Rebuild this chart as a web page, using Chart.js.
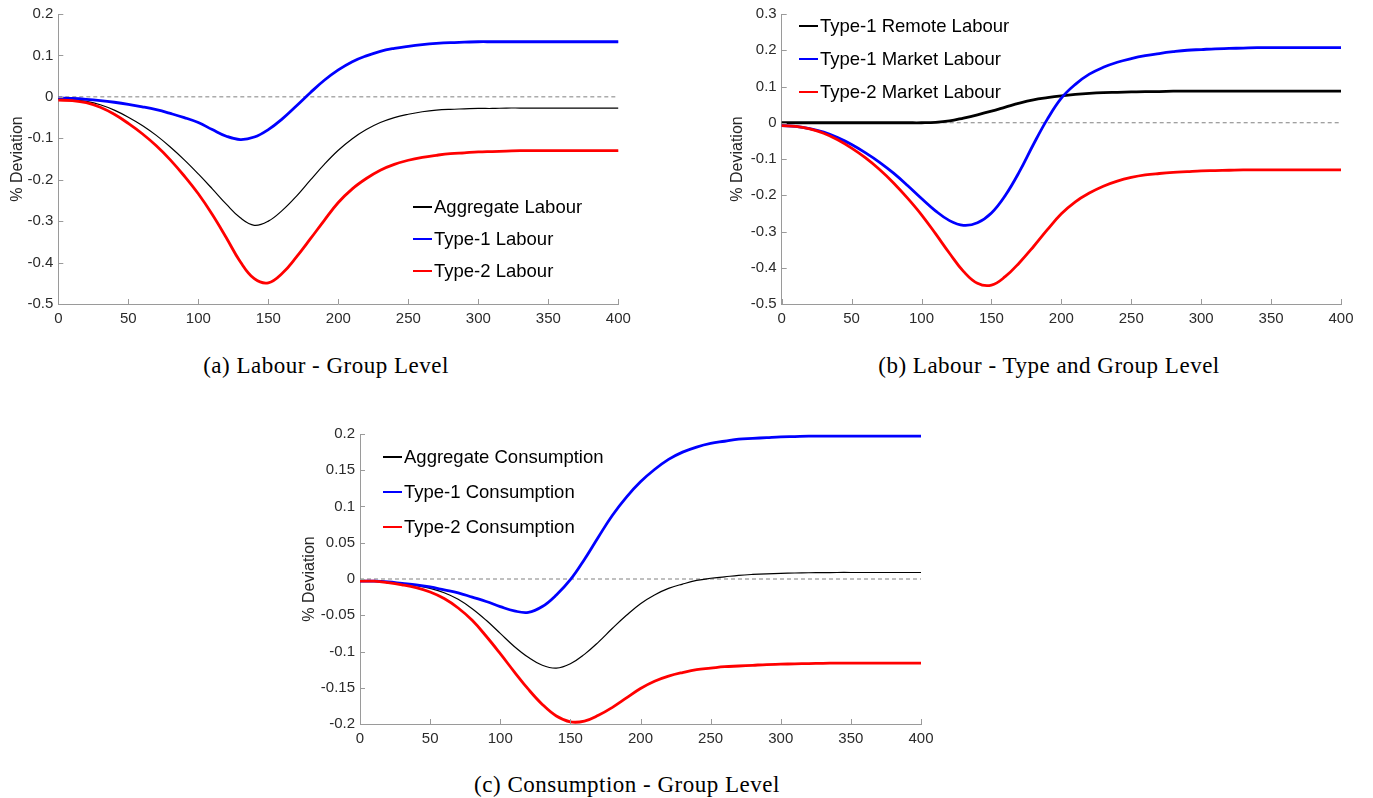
<!DOCTYPE html>
<html>
<head>
<meta charset="utf-8">
<script src="https://cdn.jsdelivr.net/npm/chart.js@4.4.1/dist/chart.umd.min.js"></script>
<style>
  html, body { margin: 0; padding: 0; background: #fff; }
  body { width: 1373px; height: 798px; position: relative; overflow: hidden; }
  canvas { position: absolute; }
  .legend { position: absolute; font-family: 'Liberation Sans', Arial, sans-serif; font-size: 18.5px; color: #000; }
  .lrow { position: absolute; height: 24px; line-height: 24px; display: flex; align-items: center; white-space: nowrap; }
  .lsample { display: inline-block; width: 19px; margin-right: 2px; }
  .caption { position: absolute; width: 600px; text-align: center; font-family: 'Liberation Serif', 'DejaVu Serif', serif; font-size: 23px; letter-spacing: 0.5px; line-height: 28px; color: #000; }
</style>
</head>
<body>
<canvas id="ca" width="660" height="335" style="left:0px;top:0px"></canvas>
<canvas id="cb" width="673" height="335" style="left:700px;top:0px"></canvas>
<canvas id="cc" width="650" height="335" style="left:290px;top:420px"></canvas>

<div class="caption" style="left:26px;top:352px">(a) Labour - Group Level</div>
<div class="caption" style="left:749px;top:352px">(b) Labour - Type and Group Level</div>
<div class="caption" style="left:327px;top:771px">(c) Consumption - Group Level</div>

<script>
// ---------------- DATA ----------------
const steps = [0,10,20,30,40,50,60,70,80,90,100,110,120,130,140,150,160,170,180,190,200,
               210,220,230,240,250,260,270,280,290,300,310,320,330,340,350,360,370,380,390,400];

// Panel (a): Labour - Group Level
const labourNamesA = ['Aggregate Labour', 'Type-1 Labour', 'Type-2 Labour'];
const aggregateLabour = [-0.005,-0.007,-0.011,-0.019,-0.032,-0.049,-0.069,-0.093,-0.121,-0.152,-0.186,
  -0.222,-0.259,-0.292,-0.31,-0.3,-0.274,-0.24,-0.201,-0.163,-0.129,
  -0.101,-0.079,-0.062,-0.05,-0.042,-0.036,-0.032,-0.03,-0.029,-0.028,
  -0.028,-0.027,-0.027,-0.027,-0.027,-0.027,-0.027,-0.027,-0.027,-0.027];
const type1Labour = [-0.003,-0.004,-0.006,-0.009,-0.013,-0.018,-0.024,-0.031,-0.04,-0.05,-0.062,
  -0.079,-0.095,-0.103,-0.097,-0.079,-0.053,-0.022,0.01,0.04,0.065,
  0.085,0.099,0.11,0.117,0.122,0.126,0.129,0.131,0.132,0.133,
  0.133,0.133,0.133,0.133,0.133,0.133,0.133,0.133,0.133,0.133];
const type2Labour = [-0.008,-0.009,-0.014,-0.025,-0.042,-0.064,-0.089,-0.118,-0.152,-0.191,-0.234,
  -0.284,-0.34,-0.398,-0.439,-0.449,-0.426,-0.387,-0.343,-0.298,-0.255,
  -0.222,-0.197,-0.177,-0.163,-0.153,-0.146,-0.141,-0.137,-0.135,-0.133,
  -0.132,-0.131,-0.13,-0.13,-0.13,-0.13,-0.13,-0.13,-0.13,-0.13];
const yTicksA = [-0.5,-0.4,-0.3,-0.2,-0.1,0,0.1,0.2];

// Panel (b): Labour - Type and Group Level
const labourNamesB = ['Type-1 Remote Labour', 'Type-1 Market Labour', 'Type-2 Market Labour'];
const type1Remote = [0,0,0,0,0,0,0,0,0,0,0,
  0.001,0.005,0.013,0.022,0.032,0.043,0.054,0.063,0.069,0.074,
  0.078,0.081,0.083,0.084,0.085,0.086,0.086,0.087,0.087,0.087,
  0.087,0.087,0.087,0.087,0.087,0.087,0.087,0.087,0.087,0.087];
const type1Market = [-0.008,-0.01,-0.016,-0.026,-0.041,-0.06,-0.083,-0.109,-0.139,-0.173,-0.209,
  -0.243,-0.27,-0.283,-0.276,-0.249,-0.2,-0.135,-0.06,0.01,0.068,
  0.106,0.134,0.153,0.167,0.177,0.185,0.191,0.196,0.2,0.202,
  0.204,0.205,0.206,0.207,0.207,0.207,0.207,0.207,0.207,0.207];
const type2Market = [-0.008,-0.01,-0.017,-0.029,-0.047,-0.07,-0.097,-0.129,-0.166,-0.208,-0.254,
  -0.306,-0.36,-0.41,-0.443,-0.448,-0.424,-0.386,-0.342,-0.295,-0.251,
  -0.218,-0.194,-0.175,-0.161,-0.151,-0.144,-0.14,-0.137,-0.135,-0.133,
  -0.132,-0.131,-0.13,-0.13,-0.13,-0.13,-0.13,-0.13,-0.13,-0.13];
const yTicksB = [-0.5,-0.4,-0.3,-0.2,-0.1,0,0.1,0.2,0.3];

// Panel (c): Consumption - Group Level
const consNames = ['Aggregate Consumption', 'Type-1 Consumption', 'Type-2 Consumption'];
const aggregateCons = [-0.003,-0.003,-0.004,-0.006,-0.009,-0.013,-0.019,-0.028,-0.041,-0.057,-0.075,
  -0.093,-0.108,-0.119,-0.123,-0.117,-0.104,-0.087,-0.068,-0.05,-0.034,
  -0.022,-0.013,-0.007,-0.002,0.001,0.003,0.005,0.0063,0.0072,0.0078,
  0.0083,0.0086,0.0088,0.009,0.009,0.009,0.009,0.009,0.009,0.009];
const type1Cons = [-0.003,-0.003,-0.004,-0.006,-0.008,-0.011,-0.015,-0.019,-0.025,-0.031,-0.038,
  -0.044,-0.046,-0.038,-0.022,-0.001,0.027,0.058,0.088,0.113,0.134,
  0.151,0.165,0.175,0.182,0.187,0.19,0.193,0.194,0.195,0.196,
  0.1965,0.197,0.197,0.197,0.197,0.197,0.197,0.197,0.197,0.197];
const type2Cons = [-0.003,-0.003,-0.005,-0.008,-0.012,-0.018,-0.027,-0.04,-0.057,-0.079,-0.103,
  -0.128,-0.152,-0.173,-0.189,-0.197,-0.196,-0.188,-0.177,-0.164,-0.151,
  -0.141,-0.134,-0.129,-0.125,-0.123,-0.121,-0.12,-0.119,-0.118,-0.1175,
  -0.117,-0.1167,-0.1163,-0.116,-0.116,-0.116,-0.116,-0.116,-0.116,-0.116];
const yTicksC = [-0.2,-0.15,-0.1,-0.05,0,0.05,0.1,0.15,0.2];

const xTicks = [0,50,100,150,200,250,300,350,400];
const yTitle = '% Deviation';

// ---------------- RENDERING ----------------
Chart.defaults.font.family = "'Liberation Sans', Arial, Helvetica, sans-serif";
const AXIS = '#9a9a9a';
const TICKTXT = '#2b2b2b';

const insideTicks = {
  id: 'insideTicks',
  afterDatasetsDraw(chart) {
    const {ctx, chartArea, scales} = chart;
    const x = scales.x, y = scales.y;
    ctx.save();
    ctx.strokeStyle = AXIS;
    ctx.lineWidth = 1;
    ctx.beginPath();
    x.ticks.forEach(t => {
      const px = Math.round(x.getPixelForValue(t.value)) + 0.5;
      ctx.moveTo(px, chartArea.bottom);
      ctx.lineTo(px, chartArea.bottom - 5);
    });
    y.ticks.forEach(t => {
      const py = Math.round(y.getPixelForValue(t.value)) + 0.5;
      ctx.moveTo(chartArea.left, py);
      ctx.lineTo(chartArea.left + 5, py);
    });
    ctx.stroke();
    ctx.restore();
  }
};

function pts(arr) { return steps.map((s, i) => ({x: s, y: arr[i]})); }

function makeChart(id, geo, series, yTicks, legendGeo) {
  const el = document.getElementById(id);
  const W = el.width, H = el.height;
  const datasets = series.map((s, i) => ({
    label: s.name,
    data: pts(s.values),
    borderColor: s.color,
    borderWidth: s.width,
    pointRadius: 0,
    fill: false,
    tension: 0.4,
    borderCapStyle: 'round',
    borderJoinStyle: 'round',
    order: series.length - i
  }));
  datasets.push({
    label: 'zero',
    data: [{x: xTicks[0], y: 0}, {x: xTicks[xTicks.length - 1], y: 0}],
    borderColor: '#808080',
    borderWidth: 1,
    borderDash: [4, 3],
    pointRadius: 0,
    fill: false,
    order: 10
  });
  new Chart(el, {
    type: 'line',
    data: {datasets},
    options: {
      responsive: false,
      animation: false,
      devicePixelRatio: 1,
      layout: {padding: {top: geo.plotT, right: W - geo.plotR, left: 0, bottom: 0}},
      plugins: {legend: {display: false}, tooltip: {enabled: false}},
      scales: {
        x: {
          type: 'linear',
          min: xTicks[0], max: xTicks[xTicks.length - 1],
          afterBuildTicks: sc => { sc.ticks = xTicks.map(v => ({value: v})); },
          grid: {display: false, drawTicks: false},
          border: {display: true, color: AXIS, width: 1},
          ticks: {autoSkip: false, maxRotation: 0, padding: 6, color: TICKTXT, font: {size: 15},
                  callback: v => String(v)},
          afterFit: sc => { sc.height = H - geo.plotB; }
        },
        y: {
          type: 'linear',
          min: yTicks[0], max: yTicks[yTicks.length - 1],
          afterBuildTicks: sc => { sc.ticks = yTicks.map(v => ({value: v})); },
          grid: {display: false, drawTicks: false},
          border: {display: true, color: AXIS, width: 1},
          ticks: {autoSkip: false, padding: 5, color: TICKTXT, font: {size: 15},
                  callback: v => String(Math.round(v * 1000) / 1000)},
          title: {display: true, text: yTitle, color: '#262626', font: {size: 16},
                  padding: {top: geo.titlePad, bottom: 0}},
          afterFit: sc => { sc.width = geo.plotL; }
        }
      }
    },
    plugins: [insideTicks]
  });

  // HTML legend (no box), built from the series list
  const lg = document.createElement('div');
  lg.className = 'legend';
  lg.style.left = legendGeo.left + 'px';
  lg.style.top = '0px';
  series.forEach((s, i) => {
    const row = document.createElement('div');
    row.className = 'lrow';
    row.style.left = '0px';
    row.style.top = (legendGeo.rows[i] - 12) + 'px';
    const sm = document.createElement('span');
    sm.className = 'lsample';
    sm.style.height = s.width + 'px';
    sm.style.background = s.color;
    const tx = document.createElement('span');
    tx.textContent = s.name;
    row.appendChild(sm); row.appendChild(tx);
    lg.appendChild(row);
  });
  document.body.appendChild(lg);
}

makeChart('ca',
  {plotL: 58.3, plotR: 618.3, plotT: 14, plotB: 304, titlePad: 8.4},
  [
    {name: labourNamesA[0], values: aggregateLabour, color: '#000000', width: 1.2},
    {name: labourNamesA[1], values: type1Labour, color: '#0000ff', width: 2.8},
    {name: labourNamesA[2], values: type2Labour, color: '#ff0000', width: 2.8}
  ], yTicksA, {left: 413, rows: [207, 239, 271]});

makeChart('cb',
  {plotL: 81.7, plotR: 641, plotT: 14, plotB: 304, titlePad: 28.4},
  [
    {name: labourNamesB[0], values: type1Remote, color: '#000000', width: 2.8},
    {name: labourNamesB[1], values: type1Market, color: '#0000ff', width: 2.8},
    {name: labourNamesB[2], values: type2Market, color: '#ff0000', width: 2.8}
  ], yTicksB, {left: 799, rows: [26, 59, 92]});

makeChart('cc',
  {plotL: 70, plotR: 631, plotT: 14, plotB: 304, titlePad: 10.4},
  [
    {name: consNames[0], values: aggregateCons, color: '#000000', width: 1.2},
    {name: consNames[1], values: type1Cons, color: '#0000ff', width: 2.8},
    {name: consNames[2], values: type2Cons, color: '#ff0000', width: 2.8}
  ], yTicksC, {left: 383, rows: [457, 492, 527]});
</script>
</body>
</html>
